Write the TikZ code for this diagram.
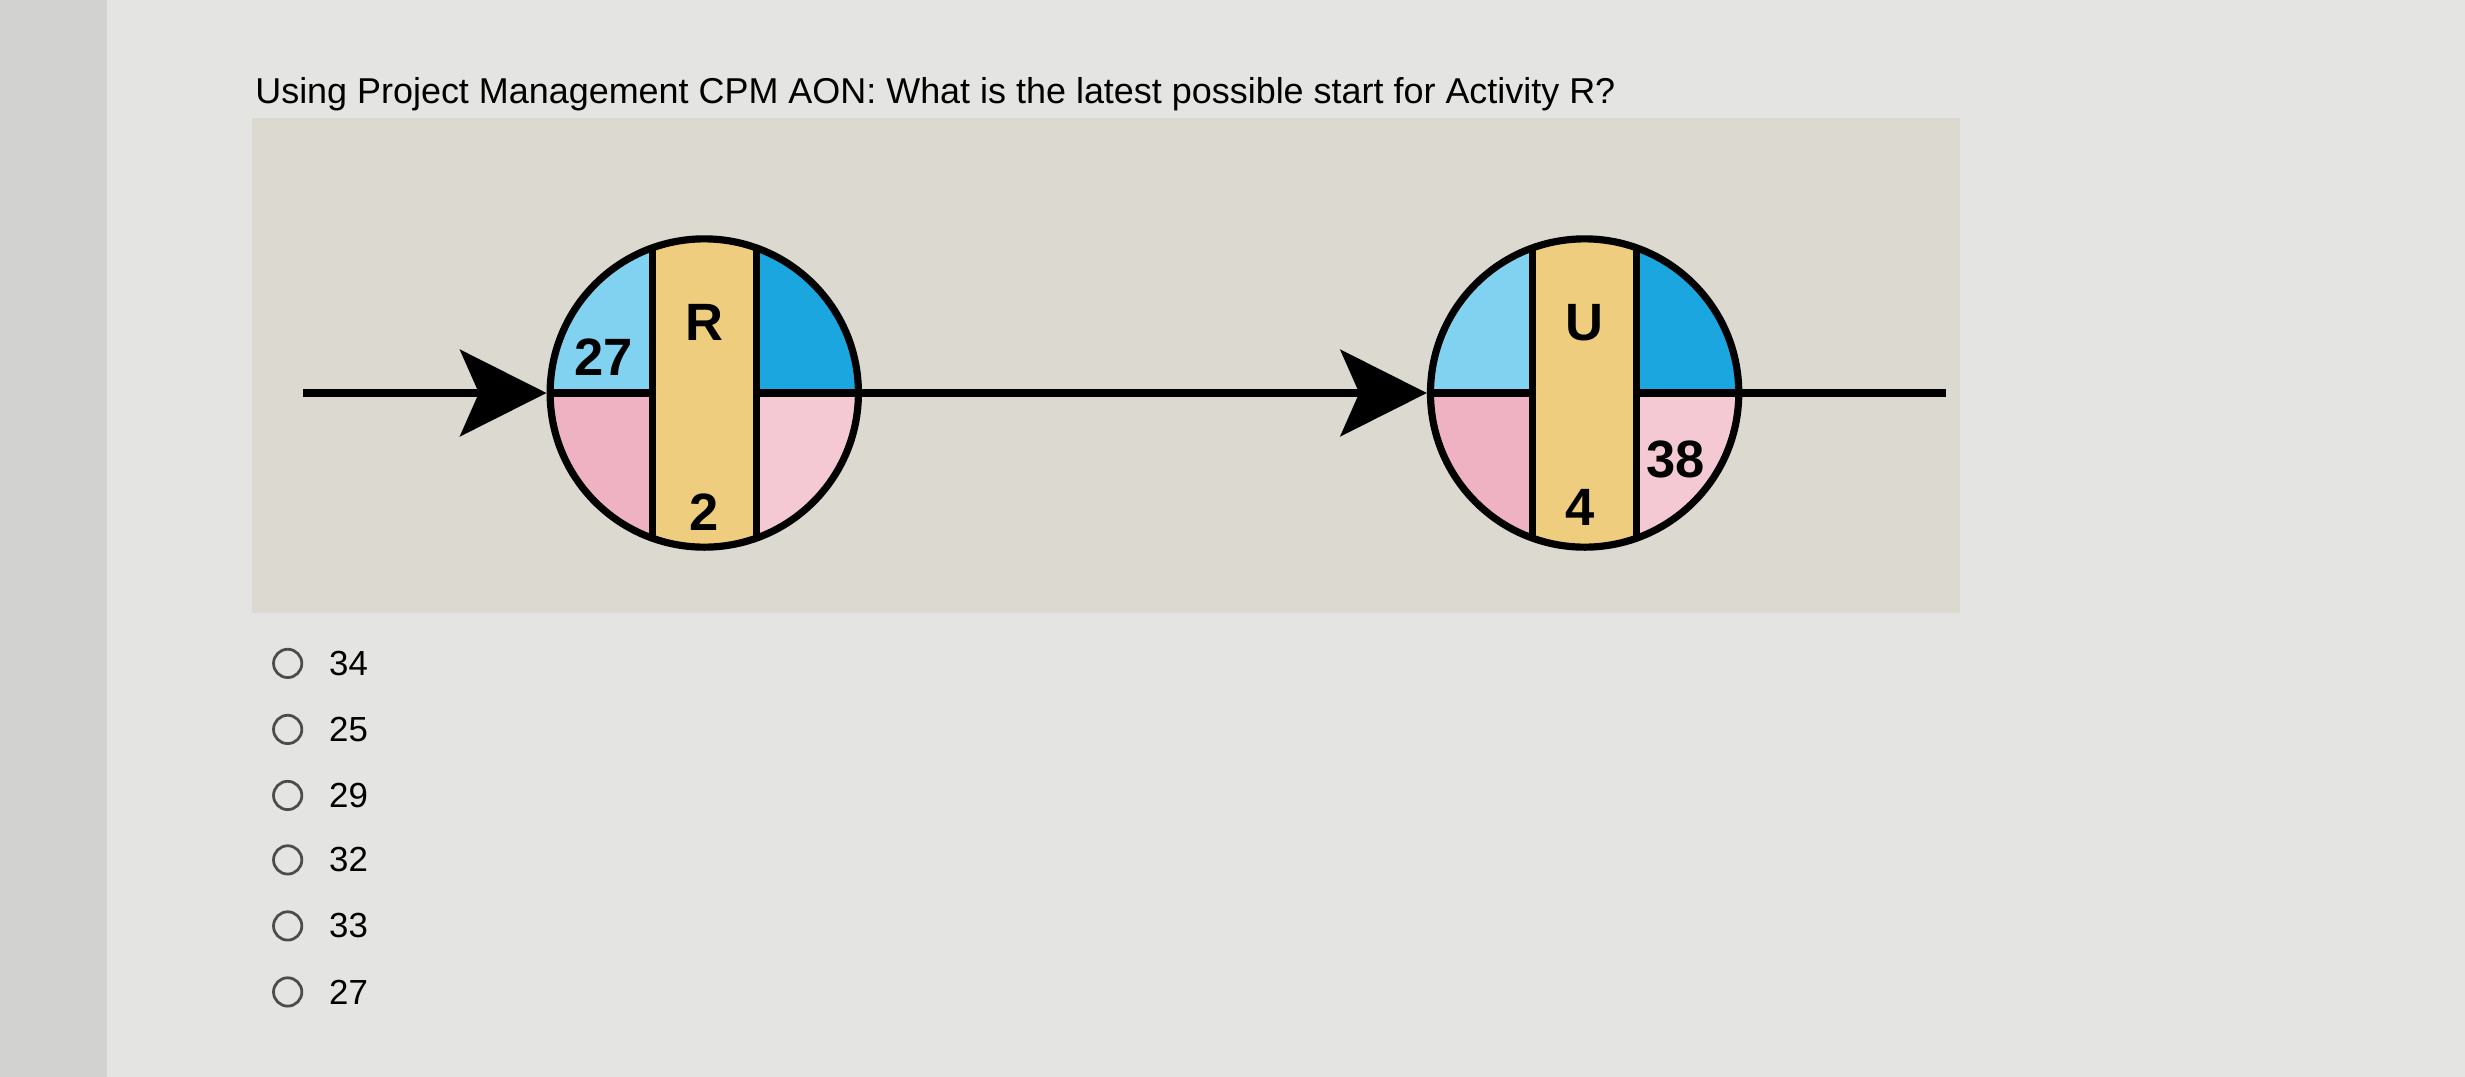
\documentclass[tikz,border=0pt]{standalone}
\usepackage{fontspec}
\setmainfont{Liberation Sans}
\usetikzlibrary{arrows.meta}
\definecolor{bgc}{HTML}{E4E4E2}
\definecolor{edge}{HTML}{D2D2D0}
\definecolor{panel}{HTML}{DCDAD0}
\definecolor{lblue}{HTML}{80D2F0}
\definecolor{dblue}{HTML}{1CA6E0}
\definecolor{pinkA}{HTML}{EFB2C2}
\definecolor{pinkB}{HTML}{F4C9D3}
\definecolor{yel}{HTML}{EFCD7E}
\tikzset{
  ring/.style={circle,draw=black,line width=1.3pt,minimum size=1.96cm,inner sep=0pt},
  conn/.style={line width=1.3pt,draw=black},
  arr/.style={conn,-{Stealth[length=0.55cm,width=0.55cm,inset=0.12cm]}},
  big/.style={font=\fontsize{9.5}{10}\selectfont\bfseries},
  opt/.style={font=\fontsize{6.3}{7}\selectfont,anchor=west},
  radio/.style={circle,draw=black!70,line width=0.5pt,minimum size=0.18cm,inner sep=0pt}
}
\begin{document}
\begin{tikzpicture}[x=0.01cm,y=-0.01cm]
\fill[bgc] (0,0) rectangle (1568,685);
\fill[edge] (0,0) rectangle (68,685);
\fill[panel] (160,75) rectangle (1247,390);
\node[anchor=west,font=\fontsize{6.5}{7}\selectfont] (title) at (150,60) {Using Project Management CPM AON: What is the latest possible start for Activity R?};
% node R
\begin{scope}
\clip (448,250) circle[radius=0.98cm];
\fill[lblue] (340,140) rectangle (448,250);
\fill[dblue] (448,140) rectangle (560,250);
\fill[pinkA] (340,250) rectangle (448,360);
\fill[pinkB] (448,250) rectangle (560,360);
\fill[yel] (415,140) rectangle (481,360);
\draw[conn] (415,140) -- (415,360) (481,140) -- (481,360) (340,250) -- (415,250) (481,250) -- (560,250);
\end{scope}
\node[ring] (R) at (448,250) {};
% node U
\begin{scope}
\clip (1008,250) circle[radius=0.98cm];
\fill[lblue] (900,140) rectangle (1008,250);
\fill[dblue] (1008,140) rectangle (1120,250);
\fill[pinkA] (900,250) rectangle (1008,360);
\fill[pinkB] (1008,250) rectangle (1120,360);
\fill[yel] (975,140) rectangle (1041,360);
\draw[conn] (975,140) -- (975,360) (1041,140) -- (1041,360) (900,250) -- (975,250) (1041,250) -- (1120,250);
\end{scope}
\node[ring] (U) at (1008,250) {};
\node[big] (r27) at (384,227) {27};
\node[big] (rR) at (448,205) {R};
\node[big] (r2) at (448,326) {2};
\node[big] (uU) at (1008,205) {U};
\node[big] (u4) at (1005,323) {4};
\node[big] (u38) at (1066,292) {38};
\coordinate (a0) at (193,250);
\coordinate (a1) at (1238,250);
\draw[arr] (a0) -- (R.west);
\draw[arr] (R.east) -- (U.west);
\draw[conn] (U.east) -- (a1);
% options
\foreach \v/\y [count=\i] in {34/422,25/464,29/506,32/547,33/589,27/631}{
  \node[radio] (rb\i) at (183,\y) {};
  \node[opt] (o\i) at (197,\y) {\v};
}
\end{tikzpicture}
\end{document}
